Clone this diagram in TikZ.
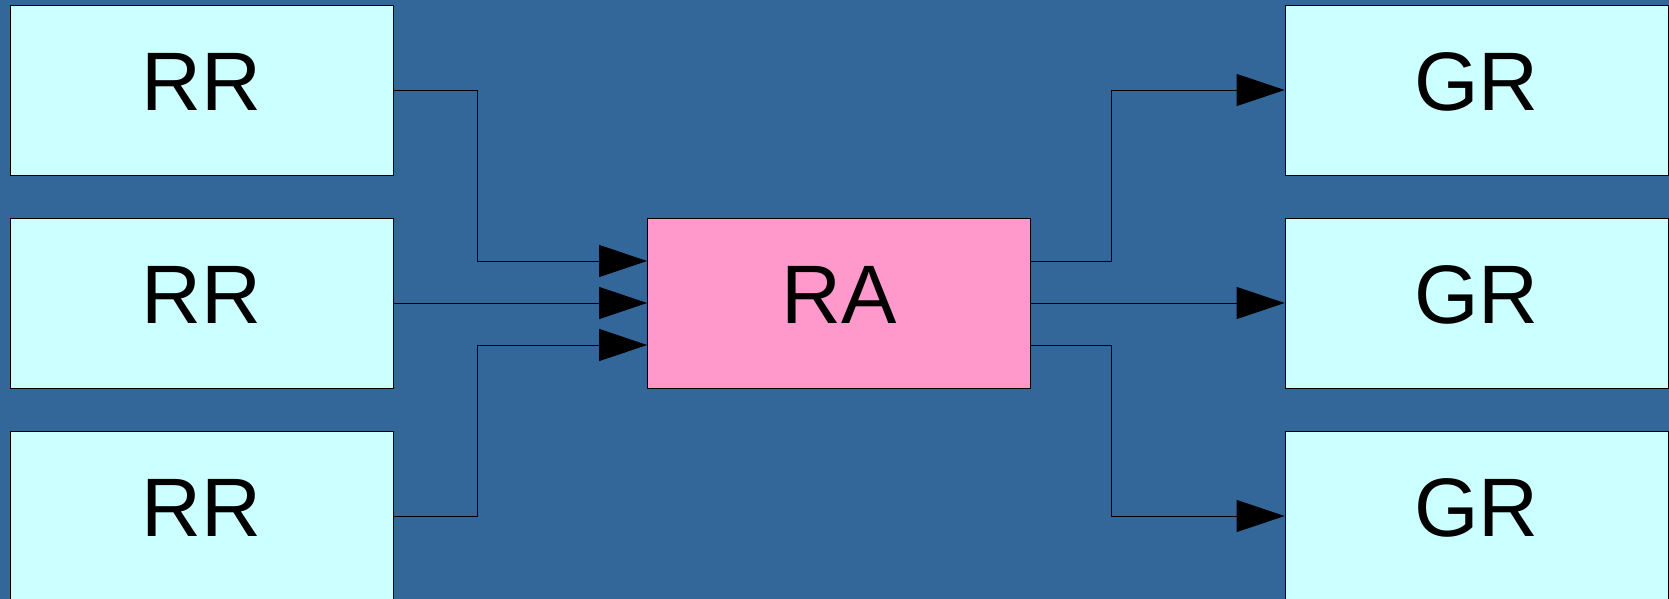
\documentclass[tikz,border=0pt]{standalone}
\usepackage{fontspec}
\setmainfont{Liberation Sans}
\usepackage{tikz}
\usepackage{xcolor}
\usetikzlibrary{arrows.meta}
\definecolor{bgblue}{HTML}{336699}
\definecolor{paleblue}{HTML}{CCFFFF}
\definecolor{pink}{HTML}{FF99CC}
\tikzset{box/.style={draw=black,thin,minimum width=191.5pt,minimum height=85pt,
   inner sep=0pt,text depth=8pt,font=\fontsize{41.5}{48}\selectfont},
 rrbox/.style={box,fill=paleblue},
 grbox/.style={box,fill=paleblue},
 rabox/.style={box,fill=pink},
 link/.style={draw=black,thin,-{Triangle[length=24pt,width=16pt]}},
 }

\begin{document}
\begin{tikzpicture}[x=0.5pt,y=-0.5pt]
        \fill[bgblue] (0,0) rectangle (1669,599);
        \useasboundingbox (0,0) rectangle (1669,599);
        \foreach \i/\y in {1/90, 2/303, 3/516} {
            \node[rrbox] (rr\i) at (201.5, \y) {RR};
            \node[grbox] (gr\i) at (1476.5, \y) {GR};
        }
        \node[rabox] (ra) at (839, 303) {RA};
        \draw[link] (rr1.east) -- ++(84,0) |- ([yshift=21pt]ra.west);
        \draw[link] (rr2.east) -- (ra.west);
        \draw[link] (rr3.east) -- ++(84,0) |- ([yshift=-21pt]ra.west);
        \draw[link] ([yshift=21pt]ra.east) -- ++(80,0) |- (gr1.west);
        \draw[link] (ra.east) -- (gr2.west);
        \draw[link] ([yshift=-21pt]ra.east) -- ++(80,0) |- (gr3.west);
    \end{tikzpicture}
\end{document}
